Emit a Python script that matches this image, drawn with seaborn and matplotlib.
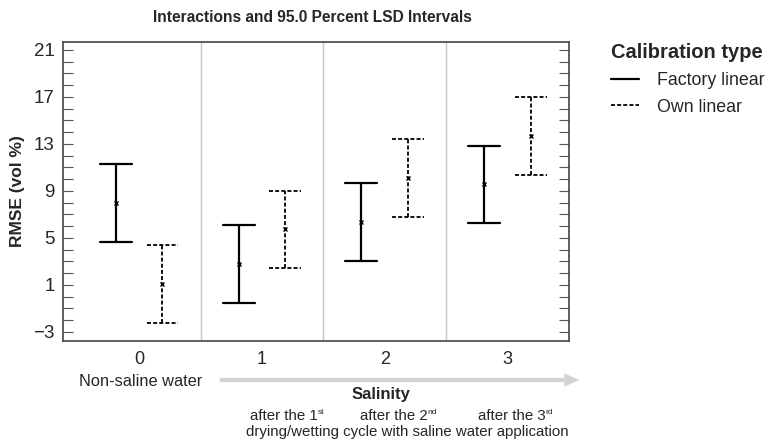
import numpy as np
import pandas as pd
import matplotlib
matplotlib.use("Agg")
import matplotlib.pyplot as plt
from matplotlib.lines import Line2D
from matplotlib.patches import FancyArrowPatch
from matplotlib.ticker import FixedLocator, MultipleLocator
import seaborn as sns

# ---- data ----
salinity = ["0", "1", "2", "3"]
calibration = ["Factory linear", "Own linear"]
factory_lo = [4.66, -0.50, 3.07, 6.25]
factory_hi = [11.27, 6.13, 9.71, 12.86]
own_lo = [-2.23, 2.45, 6.82, 10.36]
own_hi = [4.43, 9.03, 13.40, 17.03]
y_ticks = [-3, 1, 5, 9, 13, 17, 21]

title = "Interactions and 95.0 Percent LSD Intervals"
y_label = "RMSE (vol %)"
x_label = "Salinity"
legend_title = "Calibration type"
x_note = "Non-saline water"
cycle_notes = [("after the 1", "st"), ("after the 2", "nd"), ("after the 3", "rd")]
cycle_line = "drying/wetting cycle with saline water application"

# long-form table: the interval ends of each cell
rows = []
for s, lo, hi in zip(salinity, factory_lo, factory_hi):
    rows += [(s, calibration[0], lo), (s, calibration[0], hi)]
for s, lo, hi in zip(salinity, own_lo, own_hi):
    rows += [(s, calibration[1], lo), (s, calibration[1], hi)]
df = pd.DataFrame(rows, columns=["Salinity", "Calibration", "RMSE"])

sns.set_theme(style="white")
plt.rcParams["font.family"] = ["Liberation Sans", "DejaVu Sans"]

fig = plt.figure(figsize=(7.8, 4.45), dpi=100)
ax = fig.add_axes([63 / 780, 1 - 341 / 445, (569 - 63) / 780, (341 - 41.7) / 445])

sns.pointplot(
    data=df, x="Salinity", y="RMSE", hue="Calibration",
    order=salinity, hue_order=calibration,
    estimator="mean", errorbar=("pi", 100),
    dodge=0.38, capsize=0.26, markers=["x", "x"],
    linestyles=["none", "none"], palette=["black", "black"],
    linewidth=1.6, legend=False, ax=ax,
)

# style the lines: tiny markers, dashed error bars for the second hue
lines = list(ax.lines)
half = len(lines) // 2
for i, ln in enumerate(lines):
    if ln.get_linestyle() in ("None", "none", ""):
        ln.set_markersize(3.2)
        ln.set_markeredgewidth(1.0)
    elif i >= half:
        ln.set_linestyle((0, (2.2, 1.2)))
        ln.set_linewidth(1.3)

# group separators
for xs in [0.5, 1.5, 2.5]:
    ax.axvline(xs, color="#c6c6c6", lw=1.0, zorder=0)

ax.set_xlim(-0.62, 3.5)
ax.set_ylim(-3.77, 21.7)
ax.yaxis.set_major_locator(FixedLocator(y_ticks))
ax.yaxis.set_minor_locator(MultipleLocator(1))
ax.tick_params(axis="y", which="both", direction="in", length=7, width=0.8,
               color="#555555", right=True, left=True, labelsize=13.5, pad=6)
ax.tick_params(axis="x", length=0, labelsize=13, pad=7)
ax.set_xlabel("")
ax.set_ylabel(y_label, fontsize=12.5, fontweight="bold", labelpad=6)
for sp in ax.spines.values():
    sp.set_color("#444444")
    sp.set_linewidth(1.2)

fig.text(312 / 780, 1 - 17 / 445, title, ha="center", va="center",
         fontsize=11.2, fontweight="bold")

# legend
handles = [Line2D([], [], color="black", lw=1.6),
           Line2D([], [], color="black", lw=1.3, ls=(0, (2.2, 1.2)))]
leg = fig.legend(handles, calibration, loc="upper left",
                 bbox_to_anchor=(611 / 780, 1 - 43 / 445), frameon=False,
                 fontsize=12.8, title=legend_title,
                 title_fontproperties={"weight": "bold", "size": 14.5},
                 alignment="left", handlelength=1.6, handletextpad=1.0,
                 labelspacing=0.55, borderaxespad=0, borderpad=0)

# annotations below the axis
def ftxt(x, y, s, **kw):
    return fig.text(x / 780, 1 - y / 445, s, ha="center", va="center", **kw)

ftxt(141, 381, x_note, fontsize=11.8)
ftxt(381, 395, x_label, fontsize=12, fontweight="bold")
for xc, (main, sup) in zip([284, 394, 512], cycle_notes):
    t = ftxt(xc, 416, main, fontsize=10.8)
    ax.annotate(sup, xy=(1.0, 1.02), xycoords=t, ha="left", va="top",
                fontsize=6, annotation_clip=False)
ftxt(407, 432, cycle_line, fontsize=10.8)

fig.add_artist(FancyArrowPatch(
    (217 / 780, 1 - 380 / 445), (582 / 780, 1 - 380 / 445),
    transform=fig.transFigure,
    arrowstyle="simple,head_length=0.9,head_width=0.8,tail_width=0.26",
    mutation_scale=12, color="#d3d3d3", lw=0))

fig.savefig("out.png", dpi=100)
